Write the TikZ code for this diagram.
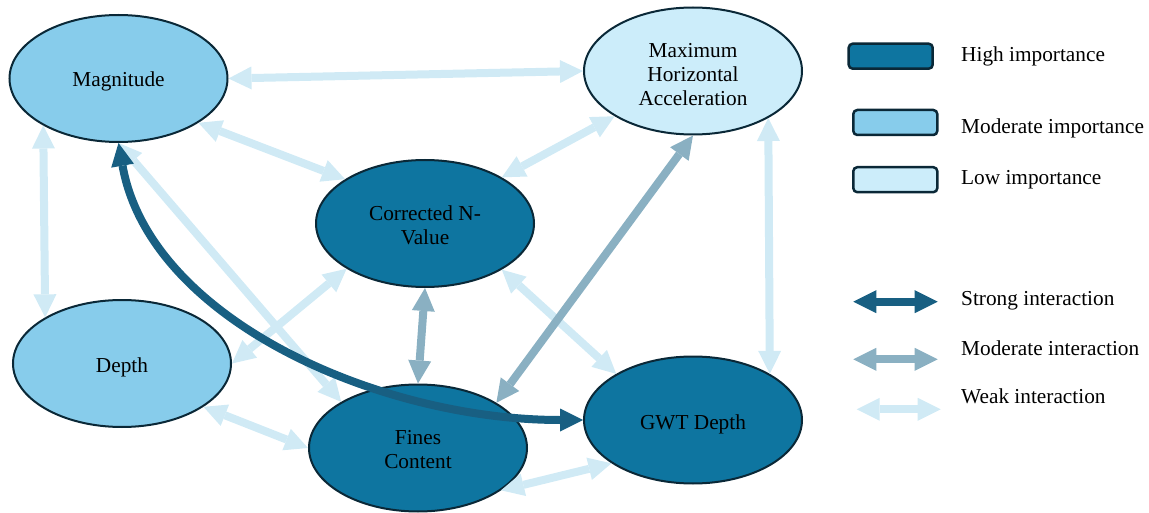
\documentclass[tikz,border=0pt]{standalone}
\usepackage{fontspec}
\setmainfont{Liberation Serif}
\usetikzlibrary{arrows.meta,shapes.geometric}
\definecolor{hiF}{HTML}{0E75A0}
\definecolor{moF}{HTML}{87CCEB}
\definecolor{loF}{HTML}{CCEDFA}
\definecolor{bord}{HTML}{0A2837}
\definecolor{strongC}{HTML}{185F82}
\definecolor{modC}{HTML}{8AB0C2}
\definecolor{weakC}{HTML}{D0EAF5}
\newcommand{\shiftdown}[2]{\raisebox{-#1}[\height][\depth]{\begin{tabular}{@{}c@{}}#2\end{tabular}}}
\tikzset{
  imp/.style={ellipse, draw=bord, line width=2pt, minimum width=218pt, minimum height=127pt, inner sep=0pt, align=center},
  legbox/.style={draw=bord, line width=2.5pt, rounded corners=4pt, minimum width=84pt, minimum height=25pt, inner sep=0pt},
  legtext/.style={anchor=base west, inner sep=0pt},
  conn/.style={line width=8pt, {Triangle[length=23pt,width=23pt,line width=0pt]}-{Triangle[length=23pt,width=23pt,line width=0pt]}},
  weakarr/.style={conn, draw=weakC},
  modarr/.style={conn, draw=modC},
  strongarr/.style={conn, draw=strongC},
}
\begin{document}
\begin{tikzpicture}[x=1pt,y=-1pt,font=\fontsize{21.3pt}{24pt}\selectfont]
\useasboundingbox (0,0) rectangle (1149,513);
% factor nodes
\node[imp, fill=moF] (mag) at (118.5,78.5) {\shiftdown{3.5pt}{Magnitude}};
\node[imp, fill=loF] (mha) at (693,71) {\shiftdown{6pt}{Maximum\\Horizontal\\Acceleration}};
\node[imp, fill=hiF] (cnv) at (425,223.5) {\shiftdown{4pt}{Corrected N-\\Value}};
\node[imp, fill=moF] (dep) at (122,363.5) {\shiftdown{4.5pt}{Depth}};
\node[imp, fill=hiF] (fin) at (418,448) {\shiftdown{4pt}{Fines\\Content}};
\node[imp, fill=hiF] (gwt) at (693,420) {\shiftdown{4.5pt}{GWT Depth}};
% weak interactions
\draw[weakarr] (mag.east) -- (mha.west);
\draw[weakarr] (mag.-29) -- (cnv.151);
\draw[weakarr] (mag.212) -- (dep.149);
\draw[weakarr] (mag.south) -- (fin.149);
\draw[weakarr] (cnv.210) -- (dep.east);
\draw[weakarr] (cnv.31) -- (mha.210);
\draw[weakarr] (cnv.-31) -- (gwt.149);
\draw[weakarr] (mha.-32) -- (gwt.31);
\draw[weakarr] (dep.-28) -- (fin.west);
\draw[weakarr] (fin.-27) -- (gwt.208);
% moderate interactions
\draw[modarr] (cnv.south) -- (fin.north);
\draw[modarr] (mha.south) -- (fin.30);
% strong interaction
\draw[strongarr] (mag.south) .. controls (150,320) and (380,420) .. (gwt.west);
% legend: importance
\node[legbox, fill=hiF] (lhi) at (890.7,56.2) {};
\node[legbox, fill=moF] (lmo) at (895.3,122.5) {};
\node[legbox, fill=loF] (llo) at (895.3,179.7) {};
\node[legtext] (thi) at (961,61.7) {High importance};
\node[legtext] (tmo) at (961,134) {Moderate importance};
\node[legtext] (tlo) at (961,184.5) {Low importance};
% legend: interaction
\coordinate (as1) at (853.3,301.7); \coordinate (as2) at (937.7,301.7);
\coordinate (am1) at (853.3,359.3); \coordinate (am2) at (937.7,359.3);
\coordinate (aw1) at (856.7,409.3); \coordinate (aw2) at (940.7,409.3);
\draw[strongarr] (as1) -- (as2);
\draw[modarr] (am1) -- (am2);
\draw[weakarr] (aw1) -- (aw2);
\node[legtext] (tst) at (961,305.7) {Strong interaction};
\node[legtext] (tmi) at (961,355) {Moderate interaction};
\node[legtext] (twi) at (961,403.3) {Weak interaction};
\end{tikzpicture}
\end{document}
